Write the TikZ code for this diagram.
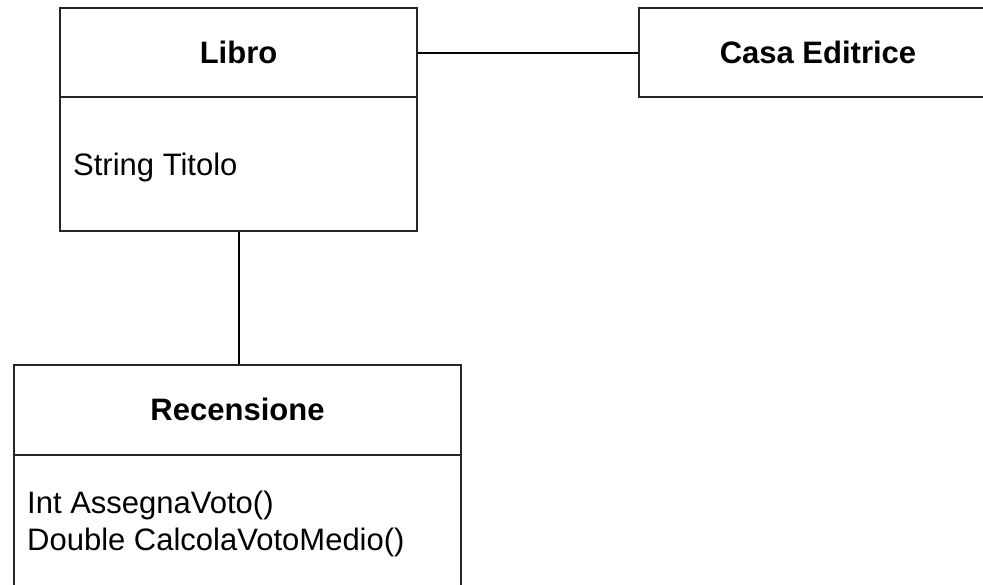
\documentclass[tikz,border=0pt]{standalone}
\usepackage{fontspec}
\setmainfont{Liberation Sans}
\begin{document}
\begin{tikzpicture}[x=1pt,y=-1pt,
  classbox/.style={draw=black!85,line width=1.1pt,rectangle,inner sep=0pt,minimum width=#1},
  title/.style={font=\fontsize{31}{37}\selectfont\bfseries},
  member/.style={font=\fontsize{31}{37}\selectfont,anchor=base west,inner sep=0pt,align=left},
  link/.style={draw=black,line width=2pt}]
\useasboundingbox (0,0) rectangle (983,584);
\clip (0,0) rectangle (983,584);
\fill[white] (0,0) rectangle (983,584);

% Libro
\node[classbox=357pt,minimum height=89pt] (libroHead) at (238.5,52.5) {};
\node[classbox=357pt,minimum height=134pt] (libroBody) at (238.5,164) {};
\node[title,anchor=base] (libroName) at (238.5,63) {Libro};
\node[member] (libroAttr) at (73,175) {String Titolo};

% Casa Editrice
\node[classbox=358pt,minimum height=89pt] (casa) at (818,52.5) {};
\node[title,anchor=base] (casaName) at (818,63) {Casa Editrice};

% Recensione
\node[classbox=447pt,minimum height=90pt] (recHead) at (237.5,410) {};
\node[classbox=447pt,minimum height=140pt] (recBody) at (237.5,525) {};
\node[title,anchor=base] (recName) at (237.5,420) {Recensione};
% the base anchor of a two-line node sits on the last line
\node[member] (recOps) at (27,550) {Int AssegnaVoto()\\Double CalcolaVotoMedio()};

% associations
\draw[link] (libroHead.east) -- (casa.west);
\draw[link] (libroBody.south) -- (libroBody.south |- recHead.north);
\end{tikzpicture}
\end{document}
